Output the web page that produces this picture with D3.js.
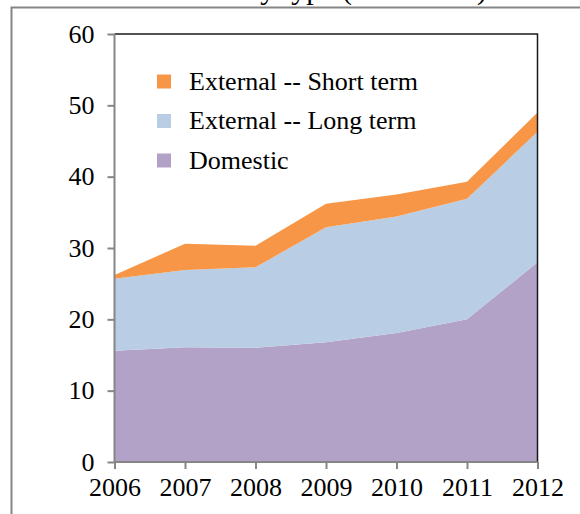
<!DOCTYPE html>
<html>
<head>
<meta charset="utf-8">
<script src="https://cdn.jsdelivr.net/npm/d3@7"></script>
<style>
  body { margin: 0; background: #fff; }
</style>
</head>
<body>
<div class="area_chart"></div>
<script>
// chart data
const years = [2006, 2007, 2008, 2009, 2010, 2011, 2012];
const domestic = [15.6, 16.1, 16.0, 16.8, 18.1, 20.0, 28.0];
const longTerm = [10.1, 10.8, 11.3, 16.1, 16.3, 16.9, 18.3];
const shortTerm = [0.5, 3.7, 3.0, 3.3, 3.1, 2.4, 2.7];
const seriesNames = ["Domestic", "External -- Long term", "External -- Short term"];
const seriesColors = ["#B3A2C7", "#B9CDE5", "#F79646"];
const yTicks = [0, 10, 20, 30, 40, 50, 60];

const WIDTH = 580, HEIGHT = 514;
const M = {left: 114.5, right: 537.5, top: 34, bottom: 462};
const FONT = "Liberation Serif";

const svg = d3.select(".area_chart")
  .append("svg")
  .attr("width", WIDTH)
  .attr("height", HEIGHT);

// outer frame (cut by the window)
svg.append("path")
  .attr("d", "M11.5,514 V7.5 H580")
  .attr("fill", "none")
  .attr("stroke", "#858585")
  .attr("stroke-width", 2);

// title, mostly above the window like in the picture
svg.append("text")
  .text("Public debt by type (% of GDP)")
  .attr("x", 487)
  .attr("y", -1)
  .attr("font-family", FONT)
  .attr("font-size", 30)
  .style("text-anchor", "end");

const table = years.map((y, i) => ({
  year: y,
  "Domestic": domestic[i],
  "External -- Long term": longTerm[i],
  "External -- Short term": shortTerm[i]
}));

const stacked = d3.stack().keys(seriesNames)(table);

const xScale = d3.scaleLinear()
  .domain([years[0], years[years.length - 1]])
  .range([M.left, M.right]);

const yScale = d3.scaleLinear()
  .domain([0, 60])
  .range([M.bottom, M.top]);

const area = d3.area()
  .x(d => xScale(d.data.year))
  .y0(d => yScale(d[0]))
  .y1(d => yScale(d[1]));

svg.selectAll(".layer")
  .data(stacked).enter()
  .append("path")
  .attr("class", "layer")
  .attr("d", area)
  .attr("fill", (d, i) => seriesColors[i]);

// plot border top & right
svg.append("path")
  .attr("d", `M${M.left},${M.top} H${M.right} V${M.bottom}`)
  .attr("fill", "none")
  .attr("stroke", "#1a1a1a")
  .attr("stroke-width", 1.5);

const yAxis = d3.axisLeft(yScale).tickValues(yTicks).tickSize(7).tickPadding(13);
const xAxis = d3.axisBottom(xScale).tickValues(years).tickFormat(d3.format("d")).tickSize(7).tickPadding(9);

const y_axis = svg.append("g")
  .attr("transform", `translate(${M.left},0)`)
  .call(yAxis);

const x_axis = svg.append("g")
  .attr("transform", `translate(0,${M.bottom})`)
  .call(xAxis);

[y_axis, x_axis].forEach(g => {
  g.attr("font-family", FONT).attr("font-size", 26);
  g.select(".domain").attr("stroke", "#868686").attr("stroke-width", 2);
  g.selectAll(".tick line").attr("stroke", "#868686").attr("stroke-width", 2);
  g.selectAll(".tick text").attr("fill", "#000");
});
y_axis.select(".domain").attr("d", `M-0,${M.top}V${M.bottom}`);
x_axis.select(".domain").attr("d", `M${M.left},0H${M.right}`);

// legend (top item = short term)
const legendOrder = [2, 1, 0];
const legend = svg.selectAll(".legend")
  .data(legendOrder).enter()
  .append("g")
  .attr("class", "legend")
  .attr("transform", (d, i) => `translate(157, ${81.5 + i * 39.5})`);

legend.append("rect")
  .attr("x", 0)
  .attr("y", -7)
  .attr("width", 14)
  .attr("height", 14)
  .attr("fill", d => seriesColors[d]);

legend.append("text")
  .text(d => seriesNames[d])
  .attr("x", 32)
  .attr("y", 8)
  .attr("font-family", FONT)
  .attr("font-size", 26);
</script>
</body>
</html>
